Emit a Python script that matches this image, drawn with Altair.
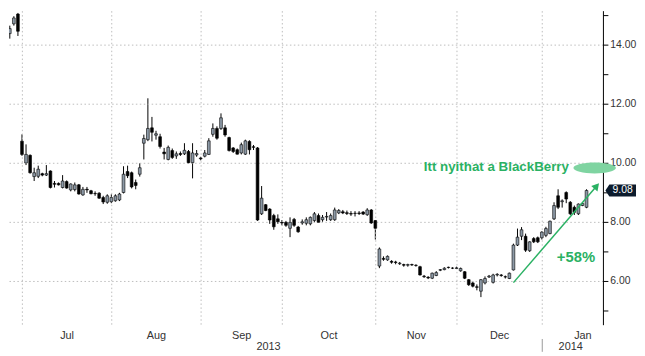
import altair as alt
import pandas as pd

# ---------------- data ----------------
holidays = ["2013-07-04", "2013-09-02", "2013-11-28", "2013-12-25", "2014-01-01"]
dates = [d.strftime("%Y-%m-%d") for d in pd.bdate_range("2013-06-24", "2014-01-16")
         if d.strftime("%Y-%m-%d") not in holidays]

opens = [13.51, 14.39, 14.72, 15.05, 10.75, 10.01, 10.27, 9.55, 9.56, 9.65,
         9.60, 9.74, 9.32, 9.32, 9.18, 9.38, 9.10, 9.11, 9.27, 8.93,
         9.12, 9.07, 8.98, 8.99, 8.84, 8.68, 8.70, 8.73, 8.76, 9.01,
         9.72, 9.68, 9.35, 9.63, 10.68, 10.80, 11.20, 10.95, 10.90, 10.38,
         10.13, 10.43, 10.25, 10.33, 10.32, 10.40, 10.02, 10.28, 10.18, 10.24,
         10.30, 10.98, 11.18, 11.18, 11.20, 10.87, 10.52, 10.46, 10.35, 10.31,
         10.74, 10.56, 10.52, 8.29, 8.60, 8.45, 8.23, 8.12, 8.00, 8.00,
         7.80, 8.10, 7.84, 7.98, 7.97, 7.95, 8.06, 8.23, 8.09, 8.18,
         8.09, 8.09, 8.32, 8.36, 8.33, 8.30, 8.30, 8.32, 8.35, 8.26,
         8.42, 8.06, 6.52, 6.78, 6.73, 6.68, 6.66, 6.60, 6.57, 6.55,
         6.57, 6.55, 6.50, 6.18, 6.14, 6.11, 6.20, 6.38, 6.40, 6.48,
         6.45, 6.44, 6.36, 6.33, 6.06, 5.95, 5.82, 5.67, 5.95, 6.15,
         5.97, 6.22, 6.22, 6.16, 6.10, 6.39, 7.23, 7.53, 7.53, 7.04,
         7.45, 7.48, 7.48, 7.56, 7.62, 8.12, 8.90, 8.70, 9.01, 8.68,
         8.51, 8.29, 8.57, 8.51]
highs = [14.30, 14.66, 14.98, 15.09, 10.98, 10.64, 10.30, 9.85, 9.92, 9.68,
         9.94, 9.76, 9.40, 9.35, 9.60, 9.42, 9.32, 9.35, 9.30, 9.20,
         9.20, 9.10, 9.05, 9.02, 8.90, 8.95, 8.95, 8.95, 9.00, 9.90,
         9.92, 9.72, 9.45, 10.00, 10.97, 12.20, 11.57, 11.10, 11.00, 10.52,
         10.60, 10.50, 10.40, 10.40, 10.68, 10.45, 10.68, 10.45, 10.22, 10.45,
         10.85, 11.35, 11.25, 11.69, 11.30, 10.90, 10.55, 10.50, 10.70, 10.80,
         10.78, 10.62, 10.55, 9.23, 8.62, 8.48, 8.29, 8.27, 8.08, 8.05,
         8.17, 8.15, 7.88, 8.10, 8.17, 8.20, 8.35, 8.30, 8.25, 8.35,
         8.30, 8.50, 8.45, 8.42, 8.40, 8.38, 8.38, 8.38, 8.38, 8.48,
         8.45, 8.08, 7.15, 6.85, 6.88, 6.72, 6.70, 6.66, 6.60, 6.60,
         6.60, 6.58, 6.53, 6.22, 6.18, 6.30, 6.35, 6.42, 6.48, 6.50,
         6.48, 6.50, 6.47, 6.35, 6.08, 6.00, 5.90, 6.08, 6.17, 6.22,
         6.26, 6.28, 6.25, 6.20, 6.30, 7.28, 7.79, 7.84, 7.62, 7.36,
         7.50, 7.52, 7.70, 7.85, 8.06, 8.68, 9.12, 8.78, 9.05, 8.72,
         8.57, 8.64, 8.68, 9.12]
lows = [13.50, 14.22, 14.66, 14.31, 10.25, 9.94, 9.65, 9.40, 9.50, 9.56,
        9.57, 9.15, 9.18, 9.25, 9.15, 9.14, 9.05, 9.05, 8.94, 8.90,
        9.00, 8.95, 8.90, 8.80, 8.62, 8.63, 8.65, 8.70, 8.72, 8.98,
        9.50, 9.15, 9.12, 9.55, 10.13, 10.75, 10.74, 10.80, 10.50, 10.13,
        10.10, 10.15, 10.15, 10.25, 10.28, 10.00, 9.49, 10.22, 10.10, 10.20,
        10.28, 10.90, 10.80, 11.13, 10.90, 10.40, 10.35, 10.30, 10.30, 10.28,
        10.30, 10.45, 8.05, 8.25, 8.38, 7.95, 7.75, 7.95, 7.90, 7.85,
        7.50, 7.85, 7.65, 7.92, 7.90, 7.90, 8.00, 7.98, 8.02, 8.05,
        8.05, 8.05, 8.28, 8.28, 8.25, 8.22, 8.20, 8.25, 8.25, 8.22,
        7.95, 7.42, 6.45, 6.70, 6.70, 6.60, 6.58, 6.56, 6.50, 6.50,
        6.53, 6.50, 6.20, 6.12, 6.08, 6.08, 6.18, 6.35, 6.38, 6.44,
        6.42, 6.42, 6.33, 6.08, 5.85, 5.80, 5.70, 5.47, 5.90, 6.12,
        5.93, 6.17, 6.16, 6.10, 6.08, 6.37, 7.20, 7.40, 7.00, 7.00,
        7.30, 7.30, 7.42, 7.50, 7.60, 8.08, 8.45, 8.50, 8.65, 8.25,
        8.25, 8.25, 8.55, 8.48]
closes = [14.08, 14.56, 14.92, 14.47, 10.30, 10.30, 9.68, 9.68, 9.80, 9.60,
          9.65, 9.18, 9.29, 9.27, 9.40, 9.16, 9.30, 9.27, 8.96, 9.12,
          9.10, 8.97, 8.97, 8.82, 8.69, 8.90, 8.84, 8.90, 8.96, 9.63,
          9.58, 9.20, 9.25, 9.85, 10.84, 11.18, 11.05, 11.00, 10.57, 10.32,
          10.54, 10.20, 10.32, 10.30, 10.44, 10.02, 10.35, 10.33, 10.15, 10.35,
          10.76, 11.18, 10.85, 11.54, 10.96, 10.43, 10.40, 10.31, 10.63, 10.76,
          10.46, 10.54, 8.08, 8.82, 8.40, 8.08, 7.85, 8.02, 7.98, 7.90,
          8.00, 7.90, 7.68, 8.02, 8.09, 8.17, 8.29, 8.00, 8.17, 8.20,
          8.23, 8.42, 8.40, 8.32, 8.30, 8.28, 8.31, 8.30, 8.28, 8.42,
          7.98, 7.80, 7.10, 6.75, 6.85, 6.65, 6.64, 6.62, 6.55, 6.57,
          6.56, 6.54, 6.22, 6.16, 6.12, 6.28, 6.30, 6.40, 6.45, 6.47,
          6.45, 6.46, 6.44, 6.11, 5.89, 5.84, 5.80, 6.06, 6.10, 6.18,
          6.22, 6.24, 6.20, 6.15, 6.28, 7.23, 7.50, 7.75, 7.06, 7.34,
          7.34, 7.34, 7.67, 7.79, 8.04, 8.57, 8.51, 8.73, 8.79, 8.29,
          8.34, 8.62, 8.64, 9.08]

month_names = ["Jul", "Aug", "Sep", "Oct", "Nov", "Dec", "Jan"]
year_labels = ["2013", "2014"]
grid_prices = [6, 8, 10, 12, 14]
tick_prices = [5, 6, 7, 8, 9, 10, 11, 12, 13, 14, 15]
note_text = "Itt nyithat a BlackBerry"
pct_text = "+58%"

# ---------------- layout constants ----------------
W, H = 602, 318
GREEN = "#2ab163"
FONT = "Liberation Sans"

df = pd.DataFrame({"i": range(len(dates)), "date": dates, "open": opens,
                   "high": highs, "low": lows, "close": closes})
df["dir"] = ["up" if c >= o else "down" for o, c in zip(opens, closes)]

# month boundaries (just before the first trading day of each month)
bounds = []
prev = None
for k, d in enumerate(dates):
    m = d[:7]
    if prev is not None and m != prev:
        bounds.append(k - 0.9)
    prev = m
month_pos = [(bounds[k] + bounds[k + 1]) / 2 for k in range(len(bounds) - 1)] + [142.1]
months_df = pd.DataFrame({"pos": month_pos, "label": month_names})
years_df = pd.DataFrame({"pos": [64.7, 139.1], "label": year_labels})
bounds_df = pd.DataFrame({"b": bounds})
jan_df = pd.DataFrame({"b": [bounds[-1]]})
ticks_df = pd.DataFrame({"v": tick_prices})
labels_df = pd.DataFrame({"v": grid_prices, "t": [f"{v:.2f}" for v in grid_prices]})

xs = alt.Scale(domain=[0.8, 147.16], nice=False, zero=False, padding=0)
ys = alt.Scale(domain=[4.52, 15.15], nice=False, zero=False, padding=0)

base = alt.Chart(df)


def X(f):
    return alt.X(f, scale=xs, axis=None)


def Y(f):
    return alt.Y(f, scale=ys, axis=None)


hgrid = alt.Chart(pd.DataFrame({"v": grid_prices})).mark_rule(
    color="#bdbdbd", strokeDash=[1.5, 2.5], strokeWidth=1
).encode(y=Y("v:Q"))

vgrid = alt.Chart(bounds_df).mark_rule(
    color="#bdbdbd", strokeDash=[1.5, 2.5], strokeWidth=1
).encode(x=X("b:Q"))

wicks = base.mark_rule(color="#000", strokeWidth=1, clip=True).encode(
    x=alt.X("i:Q", scale=xs, title=None,
            axis=alt.Axis(values=bounds, labels=False, tickSize=4, tickColor="#000",
                          domainColor="#000", grid=False, title=None)),
    y=Y("low:Q"),
    y2="high:Q",
)

bodies = base.mark_bar(size=2.8, stroke="#000", strokeWidth=0.6, clip=True).encode(
    x=X("i:Q"),
    y=Y("open:Q"),
    y2="close:Q",
    fill=alt.Fill("dir:N", scale=alt.Scale(domain=["up", "down"], range=["#8c99a6", "#000000"]),
                  legend=None),
)

# right price axis drawn through the y scale
y_domain = alt.Chart(pd.DataFrame({"v": [0]})).mark_rule(color="#000", strokeWidth=1).encode(
    x=alt.value(W), y=alt.value(0), y2=alt.value(H)
)
y_ticks = alt.Chart(ticks_df).mark_rule(color="#000", strokeWidth=1).encode(
    x=alt.value(W), x2=alt.value(W + 5), y=Y("v:Q")
)
y_labels = alt.Chart(labels_df).mark_text(
    font=FONT, fontSize=10.5, color="#333", align="left", baseline="middle"
).encode(x=alt.value(W + 7), y=Y("v:Q"), text="t:N")

month_text = alt.Chart(months_df).mark_text(
    font=FONT, fontSize=11, color="#333", baseline="middle"
).encode(x=X("pos:Q"), y=alt.value(H + 11), text="label:N")

year_text = alt.Chart(years_df).mark_text(
    font=FONT, fontSize=11, color="#333", baseline="middle"
).encode(x=X("pos:Q"), y=alt.value(H + 22), text="label:N")

sep = alt.Chart(jan_df).mark_rule(color="#999", strokeWidth=1).encode(
    x=X("b:Q"), y=alt.value(H + 14), y2=alt.value(H + 27)
)

ellipse_path = ("M-1,0 C-1,-0.1414 -0.5523,-0.256 0,-0.256 C0.5523,-0.256 1,-0.1414 1,0 "
                "C1,0.1414 0.5523,0.256 0,0.256 C-0.5523,0.256 -1,0.1414 -1,0 Z")
ellipse = alt.Chart(pd.DataFrame({"x": [145.0], "y": [9.84]})).mark_point(
    shape=ellipse_path, size=1849, filled=True, color="#7fd4a1", opacity=1
).encode(x=X("x:Q"), y=Y("y:Q"))

note = alt.Chart(pd.DataFrame({"x": [120.8], "y": [9.87], "t": [note_text]})).mark_text(
    font=FONT, fontSize=13.5, fontWeight="bold", color=GREEN, baseline="middle"
).encode(x=X("x:Q"), y=Y("y:Q"), text="t:N")

arrow_df = pd.DataFrame({"x": [125.0, 145.5], "y": [5.96, 9.23]})
arrow = alt.Chart(arrow_df).mark_line(color=GREEN, strokeWidth=1.5).encode(
    x=X("x:Q"), y=Y("y:Q")
)
head = alt.Chart(pd.DataFrame({"x": [145.5], "y": [9.23]})).mark_point(
    shape="triangle-up", angle=41, size=70, filled=True, color=GREEN, opacity=1
).encode(x=X("x:Q"), y=Y("y:Q"))

pct = alt.Chart(pd.DataFrame({"x": [140.4], "y": [6.83], "t": [pct_text]})).mark_text(
    font=FONT, fontSize=15, fontWeight="bold", color=GREEN, baseline="middle"
).encode(x=X("x:Q"), y=Y("y:Q"), text="t:N")

last_df = df.tail(1)
tag_path = "M-1,0 L-0.74,-0.39 L1,-0.39 L1,0.39 L-0.74,0.39 Z"
tag = alt.Chart(last_df).mark_point(
    shape=tag_path, size=961, filled=True, color="#0c1b2c", opacity=1
).encode(x=alt.value(W + 17.5), y=Y("close:Q"))
tag_text = alt.Chart(last_df).mark_text(
    font=FONT, fontSize=10.5, color="#ffffff", baseline="middle", align="center"
).encode(x=alt.value(W + 19.5), y=Y("close:Q"),
         text=alt.Text("close:Q", format=".2f"))

chart = alt.layer(
    wicks, hgrid, vgrid, bodies, y_domain, y_ticks, y_labels, month_text, year_text, sep,
    arrow, head, pct, note, ellipse, tag, tag_text
).properties(
    width=W, height=H, padding={"left": 0, "top": 0, "right": 0, "bottom": 0},
    background="#ffffff"
).configure_view(stroke=None)

chart.save("out.html", embed_options={"renderer": "svg", "actions": False})
